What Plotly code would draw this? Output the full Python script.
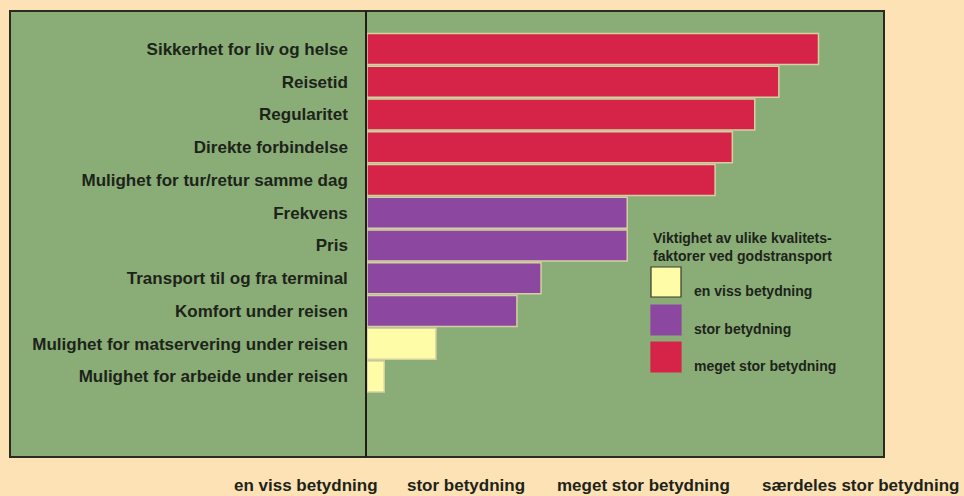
import plotly.graph_objects as go

# Quality factors, top to bottom
factors = [
    "Sikkerhet for liv og helse",
    "Reisetid",
    "Regularitet",
    "Direkte forbindelse",
    "Mulighet for tur/retur samme dag",
    "Frekvens",
    "Pris",
    "Transport til og fra terminal",
    "Komfort under reisen",
    "Mulighet for matservering under reisen",
    "Mulighet for arbeide under reisen",
]
# Mean importance score (1 = en viss ... 4 = særdeles stor betydning)
scores = [3.62, 3.39, 3.25, 3.12, 3.02, 2.51, 2.51, 2.01, 1.87, 1.40, 1.10]
# Importance class of each factor (index into level_names)
levels = [2, 2, 2, 2, 2, 1, 1, 1, 1, 0, 0]

level_names = ["en viss betydning", "stor betydning", "meget stor betydning"]
level_colors = ["#FFFCA8", "#8C48A0", "#D62448"]
legend_title = "Viktighet av ulike kvalitets-<br>faktorer ved godstransport"

scale_labels = ["en viss betydning", "stor betydning",
                "meget stor betydning", "særdeles stor betydning"]
scale_min, scale_max = 1, 4

PAPER = "#FCE2B4"
GREEN = "#8AAC77"
INK = "#1C2419"
FONT = "Liberation Sans"

W, H = 964, 496
ML, MR, MT, MB = 367, 80, 11, 39
PW, PH = W - ML - MR, H - MT - MB


def px_x(p):
    return (p - ML) / PW


def px_y(p):
    return (H - MB - p) / PH


fig = go.Figure()
fig.add_trace(go.Bar(
    y=factors,
    x=[s - scale_min for s in scores],
    base=scale_min,
    orientation="h",
    marker=dict(color=[level_colors[l] for l in levels],
                line=dict(color="#D6CFA2", width=1.5)),
    showlegend=False,
    hoverinfo="skip",
))

shapes = [
    # green panel with dark frame, extending left to hold the factor labels
    dict(type="rect", xref="paper", yref="paper",
         x0=px_x(10), x1=1, y0=0, y1=1,
         fillcolor=GREEN, line=dict(color="#2A2A20", width=2), layer="below"),
]

annotations = []
# legend block
annotations.append(dict(
    text=legend_title, xref="paper", yref="paper",
    x=px_x(651), y=px_y(246.5), xanchor="left", yanchor="middle",
    align="left", showarrow=False,
    font=dict(family=FONT, size=14, color=INK, weight="bold"),
))
sw_top = [267, 305, 342]
for i, name in enumerate(level_names):
    y0, y1 = sw_top[i], sw_top[i] + 30
    shapes.append(dict(
        type="rect", xref="paper", yref="paper",
        x0=px_x(651), x1=px_x(681), y0=px_y(y1), y1=px_y(y0),
        fillcolor=level_colors[i],
        line=dict(color="#3A3A28" if i == 0 else level_colors[i], width=1.2),
    ))
    annotations.append(dict(
        text=name, xref="paper", yref="paper",
        x=px_x(692), y=px_y(y0 + 24), xanchor="left", yanchor="middle",
        showarrow=False,
        font=dict(family=FONT, size=14, color=INK, weight="bold"),
    ))

# importance scale along the bottom
scale_centers = [305.5, 466, 643, 860]
for lab, cx in zip(scale_labels, scale_centers):
    annotations.append(dict(
        text=lab, xref="paper", yref="paper",
        x=px_x(cx), y=px_y(485), xanchor="center", yanchor="middle",
        showarrow=False,
        font=dict(family=FONT, size=17, color=INK, weight="bold"),
    ))

n = len(factors)
fig.update_layout(
    width=W, height=H,
    margin=dict(l=ML, r=MR, t=MT, b=MB, pad=0),
    paper_bgcolor=PAPER,
    plot_bgcolor=GREEN,
    bargap=0.05,
    shapes=shapes,
    annotations=annotations,
    xaxis=dict(range=[scale_min, scale_max], showgrid=False, zeroline=False,
               showticklabels=False, ticks="", showline=False, fixedrange=True),
    yaxis=dict(type="category", categoryorder="array", categoryarray=factors,
               range=[n - 1 + 2.46, -1.16], showgrid=False, zeroline=False,
               showline=True, linecolor="#1E1E18", linewidth=1.5,
               ticks="", ticklabelstandoff=14, automargin=False,
               tickfont=dict(family=FONT, size=17, color=INK, weight="bold")),
)

fig.write_html("out.html")
